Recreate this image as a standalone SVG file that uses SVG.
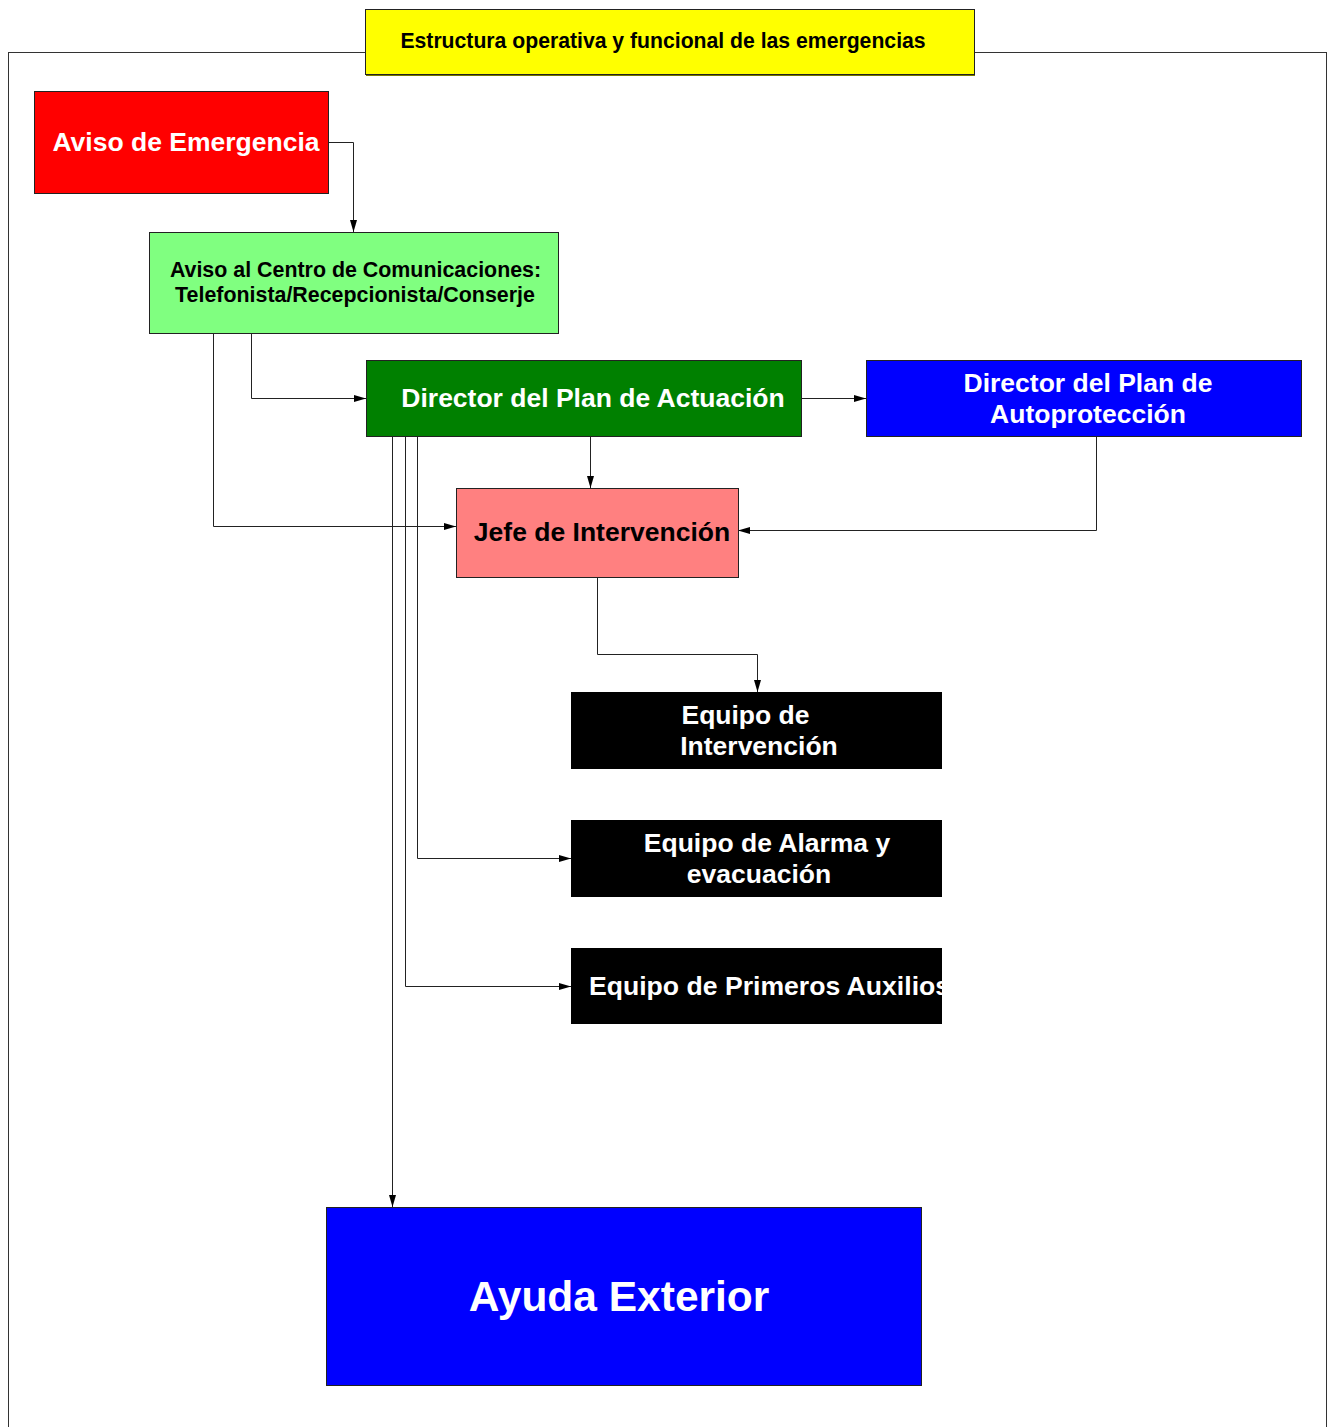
<svg xmlns="http://www.w3.org/2000/svg" width="1334" height="1427" viewBox="0 0 1334 1427">
<style>
.box{stroke:#222;stroke-width:1}
.t{font-family:"Liberation Sans",Arial,sans-serif;font-weight:bold;text-anchor:middle}
.w{fill:#fff}
.k{fill:#000}
.c{fill:none;stroke:#222;stroke-width:1}
</style>
<defs>
<marker id="ah" viewBox="0 0 12 7" refX="12" refY="3.5" markerWidth="12" markerHeight="7" markerUnits="userSpaceOnUse" orient="auto">
<path d="M0,0 L12,3.5 L0,7 Z" fill="#000"/>
</marker>
<clipPath id="clipPA"><rect x="571" y="948" width="371" height="76"/></clipPath>
</defs>
<rect width="1334" height="1427" fill="#fff"/>
<rect x="8.5" y="52.5" width="1318" height="1400" fill="none" stroke="#333" stroke-width="1"/>
<g id="title">
<rect x="365.5" y="9.5" width="609" height="65" fill="#ffff00" class="box"/>
<line x1="366" y1="75.5" x2="975" y2="75.5" stroke="#777700" stroke-width="1"/>
<text x="663" y="48" class="t k" font-size="21.2">Estructura operativa y funcional de las emergencias</text>
</g>
<g id="connectors">
<path class="c" d="M328,142.5 H353.5 V232" marker-end="url(#ah)"/>
<path class="c" d="M251.5,333 V398.5 H366" marker-end="url(#ah)"/>
<path class="c" d="M213.5,333 V526.5 H456" marker-end="url(#ah)"/>
<path class="c" d="M801,398.5 H866" marker-end="url(#ah)"/>
<path class="c" d="M590.5,436 V488" marker-end="url(#ah)"/>
<path class="c" d="M1096.5,436 V530.5 H738" marker-end="url(#ah)"/>
<path class="c" d="M597.5,577 V654.5 H757.5 V692" marker-end="url(#ah)"/>
<path class="c" d="M417.5,436 V858.5 H571" marker-end="url(#ah)"/>
<path class="c" d="M405.5,436 V986.5 H571" marker-end="url(#ah)"/>
<path class="c" d="M392.5,436 V1207" marker-end="url(#ah)"/>
</g>
<g id="aviso-emergencia">
<rect x="34.5" y="91.5" width="294" height="102" fill="#ff0000" class="box"/>
<text x="186" y="151" class="t w" font-size="26.5">Aviso de Emergencia</text>
</g>
<g id="centro-comunicaciones">
<rect x="149.5" y="232.5" width="409" height="101" fill="#80ff80" class="box"/>
<text x="355.5" y="277" class="t k" font-size="21.4">Aviso al Centro de Comunicaciones:</text>
<text x="355" y="302" class="t k" font-size="21.4">Telefonista/Recepcionista/Conserje</text>
</g>
<g id="director-actuacion">
<rect x="366.5" y="360.5" width="435" height="76" fill="#008000" class="box"/>
<text x="593" y="407" class="t w" font-size="26.5">Director del Plan de Actuación</text>
</g>
<g id="director-autoproteccion">
<rect x="866.5" y="360.5" width="435" height="76" fill="#0000ff" class="box"/>
<text x="1088" y="392" class="t w" font-size="26.5">Director del Plan de</text>
<text x="1088" y="423" class="t w" font-size="26.5">Autoprotección</text>
</g>
<g id="jefe-intervencion">
<rect x="456.5" y="488.5" width="282" height="89" fill="#ff8080" class="box"/>
<text x="602" y="541" class="t k" font-size="26.5">Jefe de Intervención</text>
</g>
<g id="equipo-intervencion">
<rect x="571" y="692" width="371" height="77" fill="#000"/>
<text x="745.5" y="724" class="t w" font-size="26.5">Equipo de</text>
<text x="759" y="755" class="t w" font-size="26.5">Intervención</text>
</g>
<g id="equipo-alarma">
<rect x="571" y="820" width="371" height="77" fill="#000"/>
<text x="767" y="852" class="t w" font-size="26.5">Equipo de Alarma y</text>
<text x="759" y="883" class="t w" font-size="26.5">evacuación</text>
</g>
<g id="equipo-primeros-auxilios">
<rect x="571" y="948" width="371" height="76" fill="#000"/>
<text x="589" y="995" class="t w" font-size="26.6" style="text-anchor:start" clip-path="url(#clipPA)">Equipo de Primeros Auxilios</text>
</g>
<g id="ayuda-exterior">
<rect x="326.5" y="1207.5" width="595" height="178" fill="#0000ff" class="box"/>
<text x="619" y="1311" class="t w" font-size="42.5">Ayuda Exterior</text>
</g>
</svg>
